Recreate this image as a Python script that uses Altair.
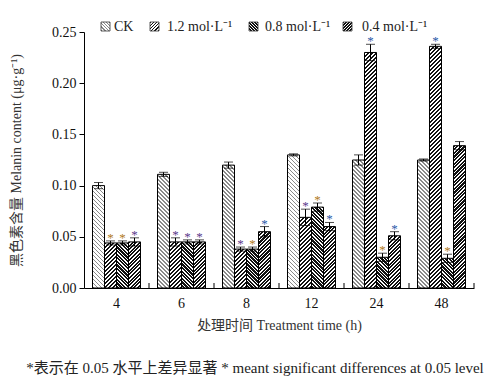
import altair as alt

times = ["4", "6", "8", "12", "24", "48"]
groups = ["CK", "1.2", "0.8", "0.4"]
legend_labels = ["CK", "1.2 mol·L⁻¹", "0.8 mol·L⁻¹", "0.4 mol·L⁻¹"]

values = {
    "CK":  [0.100, 0.111, 0.120, 0.130, 0.125, 0.125],
    "1.2": [0.044, 0.045, 0.038, 0.069, 0.230, 0.236],
    "0.8": [0.044, 0.045, 0.038, 0.079, 0.030, 0.029],
    "0.4": [0.045, 0.045, 0.055, 0.060, 0.051, 0.139],
}
errors = {
    "CK":  [0.003, 0.002, 0.003, 0.001, 0.005, 0.001],
    "1.2": [0.002, 0.004, 0.002, 0.008, 0.008, 0.002],
    "0.8": [0.002, 0.002, 0.002, 0.004, 0.004, 0.004],
    "0.4": [0.004, 0.002, 0.005, 0.004, 0.004, 0.004],
}
stars = {
    "CK":  ["", "", "", "", "", ""],
    "1.2": ["*", "*", "*", "*", "*", "*"],
    "0.8": ["*", "*", "*", "*", "*", "*"],
    "0.4": ["*", "*", "*", "*", "*", ""],
}
ORANGE, PURPLE, BLUE = "#b07a1a", "#5a3a8a", "#2a5aa8"
star_colors = {
    "CK":  [BLUE] * 6,
    "1.2": [ORANGE, PURPLE, PURPLE, PURPLE, BLUE, BLUE],
    "0.8": [ORANGE, PURPLE, ORANGE, ORANGE, ORANGE, ORANGE],
    "0.4": [PURPLE, PURPLE, BLUE, BLUE, BLUE, BLUE],
}

# hatch styles: (forward slash?, period px, ink fraction, ink colour)
styles = {
    "CK":  (False, 4.0, 0.40, "#8a8a8a"),
    "1.2": (True, 4.0, 0.42, "#111111"),
    "0.8": (False, 3.6, 0.62, "#111111"),
    "0.4": (True, 3.6, 0.58, "#111111"),
}

W, H = 390, 256
YMAX = 0.25
STEP = W / len(times)
GROUP_W = 48
BAR_W = GROUP_W / len(groups)
FONT = "Liberation Serif, Noto Sans CJK SC"


def hatch(w, h, forward, period, frac, ink, paper="#ffffff"):
    r = h / w
    s = (1 + r) / (1 + r * r)
    if forward:
        x1, y1, x2, y2 = 0, 0, s, s * r
    else:
        x1, y1, x2, y2 = 1, 0, 1 - s, s * r
    L = w + h
    stops = []
    k = 0
    while k * period / L < 1:
        a = k * period / L
        b = min((k + frac) * period / L, 1)
        c = min((k + 1) * period / L, 1)
        stops += [
            {"offset": round(a, 5), "color": ink},
            {"offset": round(b, 5), "color": ink},
            {"offset": round(b, 5), "color": paper},
            {"offset": round(c, 5), "color": paper},
        ]
        k += 1
    return {"gradient": "linear", "x1": x1, "y1": y1, "x2": x2, "y2": y2, "stops": stops}


records = []
for g in groups:
    fwd, per, frac, ink = styles[g]
    for i, t in enumerate(times):
        v = values[g][i]
        e = errors[g][i]
        hpx = v / YMAX * H
        records.append({
            "time": t, "group": g, "value": v,
            "lo": v - e, "hi": v + e,
            "fill": hatch(BAR_W, hpx, fwd, per, frac, ink),
            "star": stars[g][i], "starColor": star_colors[g][i],
        })

data = alt.Data(values=records)

x_enc = alt.X(
    "time:N", sort=times,
    scale=alt.Scale(paddingInner=(STEP - GROUP_W) / STEP, paddingOuter=(STEP - GROUP_W) / STEP / 2),
    axis=alt.Axis(title="处理时间 Treatment time (h)", labelAngle=0, ticks=False,
                  domainColor="black", labelPadding=8, titlePadding=8),
)
xo_enc = alt.XOffset("group:N", sort=groups, scale=alt.Scale(paddingInner=0, paddingOuter=0))
y_scale = alt.Scale(domain=[0, YMAX], nice=False)

base = alt.Chart(data).encode(x=x_enc, xOffset=xo_enc)

bars = base.mark_bar(stroke="black", strokeWidth=1).encode(
    y=alt.Y("value:Q", scale=y_scale,
            axis=alt.Axis(title="黑色素含量 Melanin content (μg·g⁻¹)", values=[0, 0.05, 0.1, 0.15, 0.2, 0.25],
                          format=".2f", grid=False, tickSize=5, domainColor="black", tickColor="black",
                          labelPadding=3, titlePadding=28)),
    fill=alt.Fill("fill:N", scale=None, legend=None),
)
err_rule = base.mark_rule(color="black", strokeWidth=1).encode(
    y=alt.Y("lo:Q", scale=y_scale), y2="hi:Q")
cap_lo = base.mark_tick(color="black", thickness=1, size=9).encode(y=alt.Y("lo:Q", scale=y_scale))
cap_hi = base.mark_tick(color="black", thickness=1, size=9).encode(y=alt.Y("hi:Q", scale=y_scale))
star_text = base.mark_text(fontSize=13, font=FONT, baseline="middle", dy=-3).encode(
    y=alt.Y("hi:Q", scale=y_scale), text="star:N",
    color=alt.Color("starColor:N", scale=None, legend=None))

main = alt.layer(bars, err_rule, cap_lo, cap_hi, star_text)

# inward ticks at group boundaries
boundaries = [{"b": i} for i in range(1, len(times) + 1)]
tick_rules = alt.Chart(alt.Data(values=boundaries)).mark_rule(color="black").encode(
    x=alt.X("b:Q", scale=alt.Scale(domain=[0, len(times)]), axis=None),
    y=alt.value(H), y2=alt.value(H - 5))

# custom legend
legend_layers = []
legend_x = [17, 66, 165, 259]
legend_tx = [30, 83, 181, 278]
for g, lab, lx, tx in zip(groups, legend_labels, legend_x, legend_tx):
    fwd, per, frac, ink = styles[g]
    sw = alt.Chart(alt.Data(values=[{"fill": hatch(9, 9, fwd, per * 0.8, frac, ink)}])).mark_rect(
        stroke="#333333", strokeWidth=0.8).encode(
        x=alt.value(lx), x2=alt.value(lx + 9), y=alt.value(-10), y2=alt.value(-1),
        fill=alt.Fill("fill:N", scale=None, legend=None))
    tx_l = alt.Chart(alt.Data(values=[{"t": lab}])).mark_text(
        font=FONT, fontSize=14, align="left", baseline="middle", color="#222222").encode(
        x=alt.value(tx), y=alt.value(-5), text="t:N")
    legend_layers += [sw, tx_l]

note = alt.Chart(alt.Data(values=[{"t": "*表示在 0.05 水平上差异显著   * meant significant differences at 0.05 level"}])).mark_text(
    font=FONT, fontSize=15, align="center", baseline="middle", color="#222222").encode(
    x=alt.value(171), y=alt.value(336), text="t:N")

chart = alt.layer(main, tick_rules, *legend_layers, note).resolve_scale(x="independent").properties(
    width=W, height=H,
    autosize=alt.AutoSizeParams(type="none"),
    padding={"left": 76, "right": 20, "top": 24, "bottom": 90},
).configure_view(stroke=None).configure_axis(
    labelFont=FONT, titleFont=FONT, labelFontSize=14, titleFontSize=14,
    labelColor="#111111", titleColor="#333333", titleFontWeight="normal",
)

chart.save("out.html", embed_options={"renderer": "svg", "actions": False})
